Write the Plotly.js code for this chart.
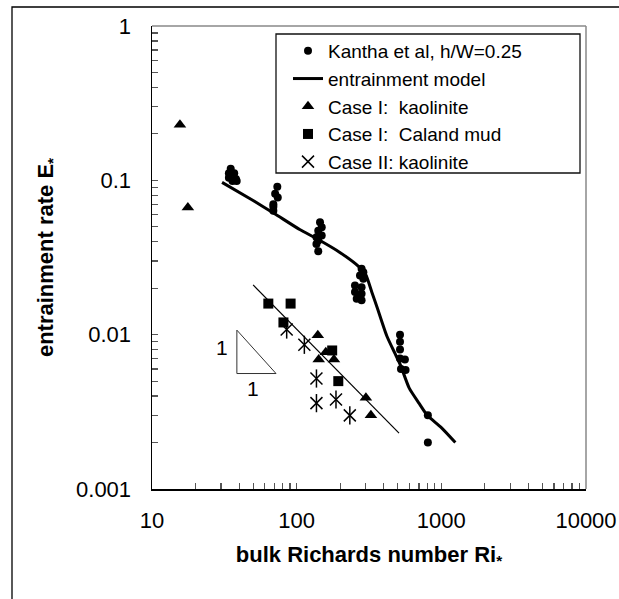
<!DOCTYPE html>
<html>
<head>
<meta charset="utf-8">
<script src="https://cdn.plot.ly/plotly-3.0.1.min.js"></script>
<style>html,body{margin:0;padding:0;background:#fff;}#chart{width:619px;height:599px;}</style>
</head>
<body>
<div id="chart"></div>
<script>
// ---- data ----
const kanthaRi = [35, 34, 37, 34, 38, 36, 38.5,
                  73.5, 71, 74, 69, 69, 69,
                  145, 149, 141, 149, 137, 141, 137, 141,
                  281, 289, 274, 289, 253, 281, 253, 281, 260, 281,
                  518, 518, 518, 518, 560, 526, 566,
                  807, 807];
const kanthaE = [0.119, 0.111, 0.111, 0.104, 0.102, 0.099, 0.099,
                 0.091, 0.082, 0.0775, 0.0674, 0.0636, 0.070,
                 0.0535, 0.0497, 0.0472, 0.0439, 0.0428, 0.0407, 0.0387, 0.0347,
                 0.0267, 0.0254, 0.0242, 0.0230, 0.0208, 0.0203, 0.0189, 0.0184, 0.0171, 0.0167,
                 0.0100, 0.0090, 0.0080, 0.0070, 0.0069, 0.0060, 0.0059,
                 0.0030, 0.0020];

const modelRi = [30.5, 50, 70, 105, 140, 200, 270, 300, 330, 360, 420, 480, 520, 600, 700, 800, 1000, 1250];
const modelE  = [0.097, 0.074, 0.061, 0.048, 0.0415, 0.034, 0.0275, 0.0245, 0.019, 0.015, 0.0098, 0.0075, 0.0064, 0.0045, 0.0036, 0.0030, 0.0025, 0.0020];

const kaoliniteIRi = [15.6, 17.7, 140, 142, 159, 181, 301, 326];
const kaoliniteIE  = [0.229, 0.0666, 0.0099, 0.0069, 0.0077, 0.0069, 0.0039, 0.0030];

const calandRi = [63.7, 90.8, 81, 176, 194];
const calandE  = [0.0159, 0.0159, 0.0120, 0.0079, 0.0050];

const kaoliniteIIRi = [85.3, 113, 137, 137, 187, 233];
const kaoliniteIIE  = [0.0108, 0.0086, 0.0052, 0.0036, 0.0038, 0.0030];

const fitRi = [50, 510];
const fitE  = [0.021, 0.0023];

const slopeRi = [38.6, 38.6, 72, 38.6];
const slopeE  = [0.0107, 0.0056, 0.0056, 0.0107];

const xTickVals = [10, 100, 1000, 10000];
const xTickText = ['10', '100', '1000', '10000'];
const yTickVals = [0.001, 0.01, 0.1, 1];
const yTickText = ['0.001', '0.01', '0.1', '1'];

const seriesNames = ['Kantha et al, h/W=0.25', 'entrainment model',
                     'Case I:\u00a0 kaolinite', 'Case I:\u00a0 Caland mud', 'Case II: kaolinite'];

// minor tick positions (2..9 within each decade)
function minorTicks(lo, hi) {
  const out = [];
  for (let e = lo; e < hi; e++) for (let m = 2; m <= 9; m++) out.push(m * Math.pow(10, e));
  return out;
}

const FONT = 'Liberation Sans, Arial, Helvetica, sans-serif';

const traces = [
  {x: modelRi, y: modelE, mode: 'lines', name: seriesNames[1], legendrank: 2,
   line: {color: '#000', width: 3, shape: 'spline', smoothing: 0.6}},
  {x: fitRi, y: fitE, mode: 'lines', showlegend: false, hoverinfo: 'skip',
   line: {color: '#000', width: 1.2}},
  {x: slopeRi, y: slopeE, mode: 'lines', showlegend: false, hoverinfo: 'skip',
   line: {color: '#333', width: 1}},
  {x: kanthaRi, y: kanthaE, mode: 'markers', name: seriesNames[0], legendrank: 1,
   marker: {symbol: 'circle', size: 8, color: '#000'}},
  {x: kaoliniteIRi, y: kaoliniteIE, mode: 'markers', name: seriesNames[2], legendrank: 3,
   marker: {symbol: 'triangle-up', size: 11, color: '#000'}},
  {x: calandRi, y: calandE, mode: 'markers', name: seriesNames[3], legendrank: 4,
   marker: {symbol: 'square', size: 10, color: '#000'}},
  {x: kaoliniteIIRi, y: kaoliniteIIE, mode: 'markers', name: seriesNames[4], legendrank: 5,
   legendgroup: 'c2',
   marker: {symbol: 'x-thin-open', size: 12, color: '#000', line: {color: '#000', width: 1.5}}},
  {x: kaoliniteIIRi, y: kaoliniteIIE, mode: 'markers', showlegend: false, legendgroup: 'c2',
   marker: {symbol: 'line-ns-open', size: 13, color: '#000', line: {color: '#000', width: 1.5}}}
];

const L = 152, R = 33, T = 26, B = 110;
const W = 619, H = 599;
const pw = W - L - R, ph = H - T - B;
const px2x = p => (p - L) / pw;
const py2y = p => (T + ph - p) / ph;

const layout = {
  width: W, height: H,
  margin: {l: L, r: R, t: T, b: B, pad: 0},
  paper_bgcolor: '#fff', plot_bgcolor: '#fff',
  font: {family: FONT, color: '#000', size: 22},
  showlegend: true,
  legend: {
    x: px2x(288), y: py2y(32), xanchor: 'left', yanchor: 'top',
    bgcolor: 'rgba(0,0,0,0)', borderwidth: 0,
    font: {family: FONT, size: 19, color: '#000'},
    traceorder: 'normal'
  },
  xaxis: {
    type: 'log', range: [1, 4], showgrid: false, zeroline: false,
    showline: true, linecolor: '#000', linewidth: 1.5, mirror: false,
    ticks: 'inside', ticklen: 6, tickwidth: 1.2, tickcolor: '#555',
    tickmode: 'array', tickvals: xTickVals, ticktext: xTickText,
    tickfont: {family: FONT, size: 22, color: '#000'},
    ticklabelstandoff: 11,
    minor: {ticks: 'inside', ticklen: 6, tickwidth: 1.2, tickcolor: '#555',
            tickmode: 'array', tickvals: minorTicks(1, 4), showgrid: false},
    title: {text: '<b>bulk Richards number Ri<sub>*</sub></b>', standoff: 14,
            font: {family: FONT, size: 22, color: '#000'}}
  },
  yaxis: {
    type: 'log', range: [-3, 0], showgrid: false, zeroline: false,
    showline: true, linecolor: '#000', linewidth: 1.5, mirror: false,
    ticks: 'inside', ticklen: 6, tickwidth: 1.2, tickcolor: '#555',
    tickmode: 'array', tickvals: yTickVals, ticktext: yTickText,
    tickfont: {family: FONT, size: 22, color: '#000'},
    ticklabelstandoff: 15,
    minor: {ticks: 'inside', ticklen: 6, tickwidth: 1.2, tickcolor: '#555',
            tickmode: 'array', tickvals: minorTicks(-3, 0), showgrid: false},
    title: {text: '<b>entrainment rate E<sub>*</sub></b>', standoff: 16,
            font: {family: FONT, size: 22, color: '#000'}}
  },
  shapes: [
    // outer figure frame (left and top edges visible)
    {type: 'rect', xref: 'paper', yref: 'paper', layer: 'below',
     x0: px2x(12), x1: 1.3, y0: -0.6, y1: py2y(7), line: {color: '#000', width: 1.3}},
    // grey top and right plot frame
    {type: 'line', xref: 'paper', yref: 'paper', x0: 0, x1: 1, y0: 1, y1: 1,
     line: {color: '#888', width: 1.5}},
    {type: 'line', xref: 'paper', yref: 'paper', x0: 1, x1: 1, y0: 0, y1: 1,
     line: {color: '#888', width: 1.5}},
    // legend box
    {type: 'rect', xref: 'paper', yref: 'paper', layer: 'below',
     x0: px2x(276), x1: px2x(580), y0: py2y(173), y1: py2y(34),
     fillcolor: '#fff', line: {color: '#111', width: 1.3}}
  ],
  annotations: [
    {x: Math.log10(30.5), y: Math.log10(0.0083), xref: 'x', yref: 'y', text: '1',
     showarrow: false, font: {family: FONT, size: 21, color: '#000'}},
    {x: Math.log10(50), y: Math.log10(0.0045), xref: 'x', yref: 'y', text: '1',
     showarrow: false, font: {family: FONT, size: 21, color: '#000'}}
  ]
};

Plotly.newPlot('chart', traces, layout, {displayModeBar: false, staticPlot: true});
</script>
</body>
</html>
